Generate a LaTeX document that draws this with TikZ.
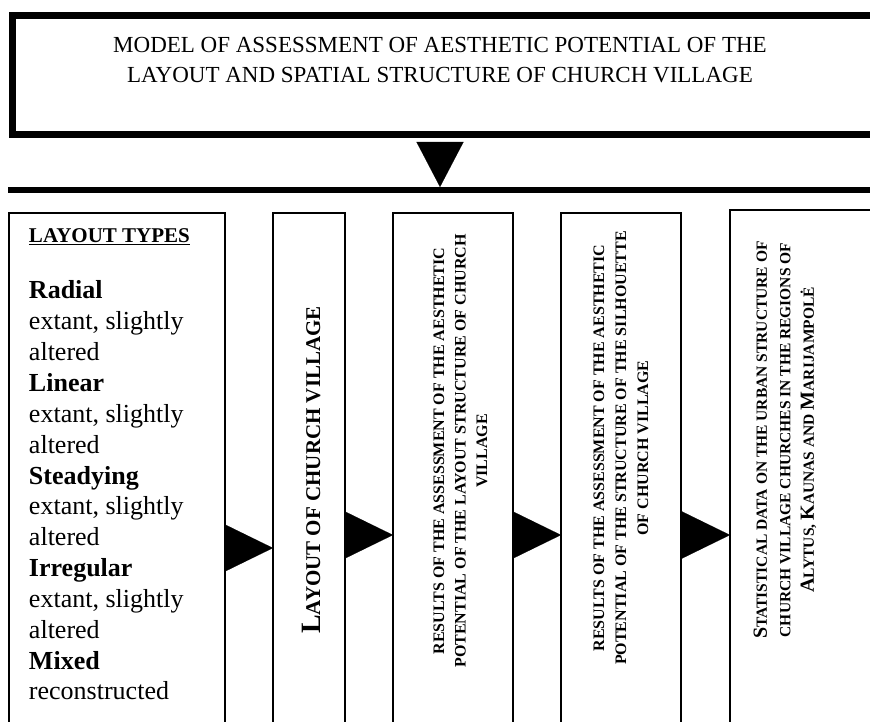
\documentclass[tikz,border=0pt]{standalone}
\usepackage{fontspec}
\setmainfont{Liberation Serif}
\usepackage{graphicx}
\usetikzlibrary{arrows.meta,positioning,calc}

% rotated text in a tall box: breadth, shift along, shift across, text
\newcommand{\sidetext}[4]{\rotatebox{90}{\begin{minipage}[c][#1][c]{547pt}\centering\leftskip=#2 plus 1fil\vspace*{#3}#4\end{minipage}}}
\newcommand{\initcap}[1]{{\fontsize{20}{24}\selectfont #1}}

\begin{document}
\begin{tikzpicture}[
    x=1pt, y=-1pt,
    titlebox/.style={draw, line width=7pt, inner sep=0pt, outer sep=0pt, font=\fontsize{23}{30}\selectfont},
    box/.style={draw, line width=1.6pt, inner sep=0pt, outer sep=0pt},
    bar/.style={line width=6pt},
    tri/.style={-{Triangle[length=48pt,width=47pt]}, line width=0.1pt},
    tridown/.style={-{Triangle[length=45pt,width=47pt]}, line width=0.1pt}
]
\useasboundingbox (0,0) rectangle (870,722);
\node[titlebox] (title) at (446.5,75.25) {\begin{minipage}[c][119.5pt][t]{868pt}\centering\rightskip=13pt plus 1fil\vspace*{22pt}MODEL OF ASSESSMENT OF AESTHETIC POTENTIAL OF THE\\LAYOUT AND SPATIAL STRUCTURE OF CHURCH VILLAGE\end{minipage}};
\coordinate (barL) at (8,190);
\coordinate (barR) at (880,190);
\coordinate (bartip) at (440,187);
\draw[bar] (barL) -- (barR);
\draw[tridown] ($(title.south -| bartip)+(0,7)$) -- (bartip);
\node[box, anchor=north west] (b1) at (9,213) {\begin{minipage}[c][547pt][t]{216pt}\raggedright\leftskip=20pt
\vspace*{16pt}\fontsize{26}{30.85}\selectfont
{\fontsize{21}{21}\selectfont\bfseries\underline{LAYOUT TYPES}}\\[25.15pt]
\textbf{Radial}\\extant, slightly\\altered\\
\textbf{Linear}\\extant, slightly\\altered\\
\textbf{Steadying}\\extant, slightly\\altered\\
\textbf{Irregular}\\extant, slightly\\altered\\
\textbf{Mixed}\\reconstructed\end{minipage}};
\node[box, right=48pt of b1] (b2) {\sidetext{72pt}{33pt}{4pt}{\fontsize{21}{24}\selectfont\bfseries{\fontsize{28}{30}\selectfont L}AYOUT OF CHURCH VILLAGE}};
\node[box, right=48pt of b2] (b3) {\sidetext{120pt}{71pt}{15pt}{\fontsize{16}{21.5}\selectfont\bfseries RESULTS OF THE ASSESSMENT OF THE AESTHETIC\\POTENTIAL OF THE LAYOUT STRUCTURE OF CHURCH\\VILLAGE}};
\node[box, right=48pt of b3] (b4) {\sidetext{120pt}{77pt}{0pt}{\fontsize{16}{22}\selectfont\bfseries RESULTS OF THE ASSESSMENT OF THE AESTHETIC\\POTENTIAL OF THE STRUCTURE OF THE SILHOUETTE\\OF CHURCH VILLAGE}};
\node[box, right=49pt of b4, minimum height=553pt] (b5) {\sidetext{160pt}{93pt}{-50pt}{\fontsize{15.5}{23.5}\selectfont\bfseries\initcap{S}TATISTICAL DATA ON THE URBAN STRUCTURE OF\\CHURCH VILLAGE CHURCHES IN THE REGIONS OF\\\initcap{A}LYTUS, \initcap{K}AUNAS AND \initcap{M}ARIJAMPOLĖ}};
\draw[tri] ([yshift=-61.5pt]b1.east) -- ([yshift=-61.5pt]b2.west);
\draw[tri] ([yshift=-48.5pt]b2.east) -- ([yshift=-48.5pt]b3.west);
\draw[tri] ([yshift=-48.5pt]b3.east) -- ([yshift=-48.5pt]b4.west);
\draw[tri] ([yshift=-48.5pt]b4.east) -- ([yshift=-48.5pt]b5.west);
\end{tikzpicture}
\end{document}
